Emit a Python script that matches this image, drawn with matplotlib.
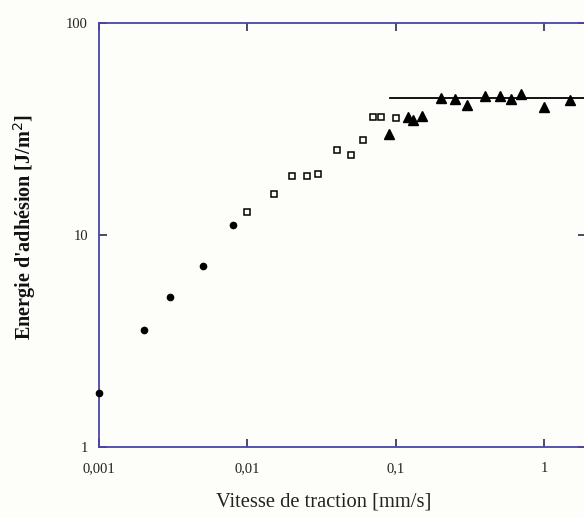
import matplotlib
matplotlib.use("Agg")
import matplotlib.pyplot as plt
from matplotlib.ticker import FixedLocator, FixedFormatter, NullLocator

# Data
circ_x = [0.001, 0.002, 0.003, 0.005, 0.008]
circ_y = [1.80, 3.56, 5.08, 7.16, 11.1]

sq_x = [0.01, 0.015, 0.02, 0.025, 0.03, 0.04, 0.05, 0.06, 0.07, 0.08, 0.1]
sq_y = [12.8, 15.7, 19.1, 19.1, 19.4, 25.2, 23.8, 28.0, 36.0, 36.0, 35.6]

tri_x = [0.09, 0.12, 0.13, 0.15, 0.2, 0.25, 0.3, 0.4, 0.5, 0.6, 0.7, 1.0, 1.5]
tri_y = [30.0, 36.0, 34.9, 36.6, 44.2, 43.8, 41.0, 45.5, 45.5, 44.0, 46.2, 40.4, 43.6]

plateau_x = [0.091, 10]
plateau_y = [44.2, 44.2]

xticks = [0.001, 0.01, 0.1, 1]
xticklabels = ["0,001", "0,01", "0,1", "1"]
yticks = [1, 10, 100]
yticklabels = ["1", "10", "100"]

W, H = 584, 518
fig = plt.figure(figsize=(W / 100, H / 100), dpi=100)
bg = "#fdfdf9"
fig.patch.set_facecolor(bg)

left, right, top, bottom = 99, 585.5, 23.3, 446.7
ax = fig.add_axes([left / W, 1 - bottom / H, (right - left) / W, (bottom - top) / H])
ax.set_facecolor(bg)
ax.set_xscale("log")
ax.set_yscale("log")
ax.set_xlim(0.001, 10 ** ((right - 544.3) / 148.5))
ax.set_ylim(1, 100)

ax.plot(plateau_x, plateau_y, color="black", lw=1.3, zorder=2)
ax.plot(circ_x, circ_y, "o", color="black", ms=4.5, zorder=3, clip_on=False)
ax.plot(sq_x, sq_y, "s", mfc="none", mec="black", mew=1.1, ms=4.5, zorder=3)
ax.plot(tri_x, tri_y, "^", color="black", ms=6.8, zorder=3)

for s in ax.spines.values():
    s.set_color("#4a44a8")
    s.set_linewidth(1.3)

serif = ["Liberation Serif", "DejaVu Serif"]
ax.xaxis.set_major_locator(FixedLocator(xticks))
ax.xaxis.set_major_formatter(FixedFormatter(xticklabels))
ax.yaxis.set_major_locator(FixedLocator(yticks))
ax.yaxis.set_major_formatter(FixedFormatter(yticklabels))
ax.xaxis.set_minor_locator(NullLocator())
ax.yaxis.set_minor_locator(NullLocator())
ax.tick_params(which="major", direction="in", length=6, width=1.1, color="#1a1a40",
               top=True, right=True, labelsize=10.5)
ax.tick_params(axis="x", pad=11)
ax.tick_params(axis="y", pad=8)
for lab in ax.get_xticklabels() + ax.get_yticklabels():
    lab.set_fontfamily(serif)
    lab.set_color("#222222")

fig.text(324 / W, 1 - 502 / H, "Vitesse de traction [mm/s]", ha="center", va="center",
         fontsize=14.8, family=serif, color="#222222")
fig.text(25 / W, 1 - 227 / H, "Energie d'adhésion [J/m$^2$]", ha="center", va="center",
         rotation=90, fontsize=14.5, fontweight="bold", family=serif, color="#111111")

fig.savefig("out.png", dpi=100, facecolor=bg)
